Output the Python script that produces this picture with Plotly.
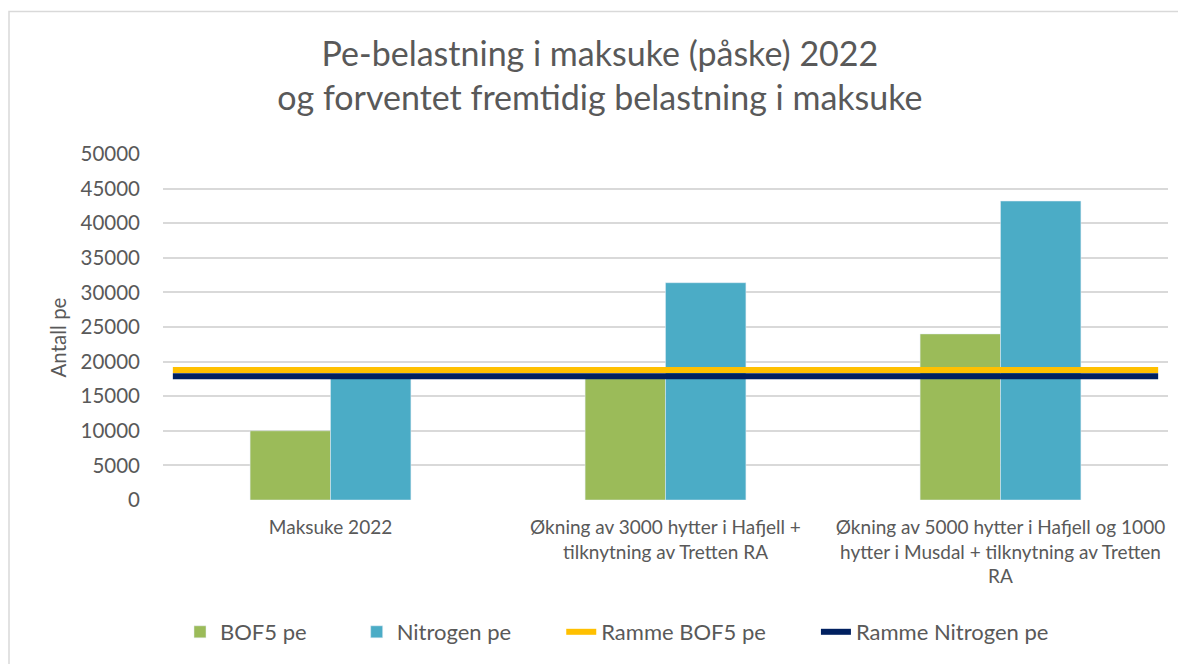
import plotly.graph_objects as go

categories = [
    "Maksuke 2022",
    "Økning av 3000 hytter i Hafjell +<br>tilknytning av Tretten RA",
    "Økning av 5000 hytter i Hafjell og 1000<br>hytter i Musdal + tilknytning av Tretten<br>RA",
]
bof5_pe = [10000, 18000, 24000]
nitrogen_pe = [18000, 31400, 43200]
ramme_bof5 = 18800
ramme_nitrogen = 17900
y_ticks = list(range(0, 50001, 5000))
series_names = ["BOF5 pe", "Nitrogen pe", "Ramme BOF5 pe", "Ramme Nitrogen pe"]

W, H = 1178, 656
ML, MR, MT, MB = 155, 18, 146, 163
pw, ph = W - ML - MR, H - MT - MB

font_fam = "Lato, 'Open Sans', sans-serif"
grey = "#595959"
pad = "\u00a0" * 8

fig = go.Figure()
fig.add_trace(go.Bar(x=categories, y=bof5_pe, name=series_names[0] + pad, marker_color="#9BBB59"))
fig.add_trace(go.Bar(x=categories, y=nitrogen_pe, name=series_names[1] + pad, marker_color="#4BACC6"))
fig.add_trace(go.Scatter(x=[0, 1], y=[ramme_bof5] * 2, name=series_names[2] + pad, mode="lines",
                         line=dict(color="#FFC000", width=6), xaxis="x2"))
fig.add_trace(go.Scatter(x=[0, 1], y=[ramme_nitrogen] * 2, name=series_names[3], mode="lines",
                         line=dict(color="#002060", width=6), xaxis="x2"))

fig.update_layout(
    width=W, height=H,
    margin=dict(l=ML, r=MR, t=MT, b=MB),
    paper_bgcolor="white", plot_bgcolor="white",
    font=dict(family=font_fam, color=grey, size=16),
    title=dict(text="Pe-belastning i maksuke (påske) 2022<br>og forventet fremtidig belastning i maksuke",
               x=0.5025, xanchor="center", y=1 - 58 / H, yanchor="middle",
               font=dict(size=34, color=grey, family=font_fam)),
    barmode="group", bargap=0.52, bargroupgap=0,
    xaxis=dict(type="category", showgrid=False, showline=False, ticks="",
               tickfont=dict(size=19, color=grey), ticklabelstandoff=14),
    xaxis2=dict(overlaying="x", range=[-0.01, 1.01], visible=False),
    yaxis=dict(range=[0, 50000], tickvals=y_ticks, tickformat="d", showgrid=True,
               gridcolor="#D9D9D9", gridwidth=1.5, zeroline=False, ticks="",
               tickfont=dict(size=20.5, color=grey), ticklabelstandoff=22),
    annotations=[dict(text="Antall pe", textangle=-90, xref="paper", yref="paper",
                      x=(50 - ML) / pw, y=1 - (330 - MT) / ph, xanchor="center", yanchor="middle",
                      showarrow=False, font=dict(size=20.5, color=grey))],
    legend=dict(orientation="h", x=(609 - ML) / pw, xanchor="center", y=-(624 - (MT + ph)) / ph,
                yanchor="middle", font=dict(size=22, color=grey), traceorder="normal"),
    shapes=[dict(type="rect", xref="paper", yref="paper",
                 x0=-(ML - 1) / pw, x1=(W + 5 - ML) / pw,
                 y0=-(MB + 5) / ph, y1=1 + (MT - 3) / ph,
                 line=dict(color="#D9D9D9", width=1.5), layer="below")],
)

fig.write_html("out.html")
